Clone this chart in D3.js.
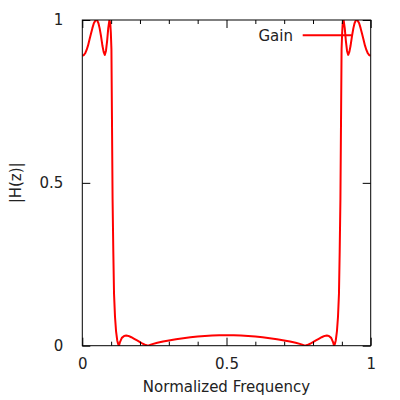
<!DOCTYPE html>
<html><head><meta charset="utf-8">
<script src="https://cdn.jsdelivr.net/npm/d3@7"></script>
<style>body{margin:0;background:#fff}svg{display:block}text{font-family:"DejaVu Sans",sans-serif;font-size:15px;fill:#222}</style>
</head><body>
<svg id="c" width="400" height="400"></svg>
<script>
const freq = [0,0.005,0.01,0.015,0.02,0.025,0.03,0.035,0.04,0.045,0.048,0.052,0.056,0.06,0.065,0.07,0.074,0.078,0.082,0.086,0.09,0.094,0.097,0.099,0.101,0.103,0.105,0.1075,0.11,0.1134,0.117,0.121,0.124,0.127,0.131,0.137,0.145,0.152,0.16,0.17,0.18,0.19,0.2,0.21,0.22,0.228,0.24,0.26,0.28,0.3,0.325,0.35,0.375,0.4,0.425,0.45,0.475,0.5,
0.525,0.55,0.575,0.6,0.625,0.65,0.675,0.7,0.72,0.74,0.76,0.772,0.78,0.79,0.8,0.81,0.82,0.83,0.84,0.848,0.855,0.863,0.869,0.873,0.876,0.879,0.883,0.8866,0.89,0.8925,0.895,0.897,0.899,0.901,0.903,0.906,0.91,0.914,0.918,0.922,0.926,0.93,0.935,0.94,0.944,0.948,0.952,0.955,0.96,0.965,0.97,0.975,0.98,0.985,0.99,0.995,1];
const gain = [0.890,0.892,0.898,0.908,0.922,0.940,0.958,0.975,0.990,0.998,1.0,0.998,0.990,0.975,0.950,0.920,0.902,0.893,0.905,0.935,0.975,1.0,0.99,0.96,0.91,0.68,0.45,0.29,0.16,0.089,0.045,0.017,0.006,0,0.012,0.024,0.030,0.031,0.030,0.026,0.021,0.016,0.011,0.006,0.002,0,0.004,0.009,0.013,0.016,0.020,0.023,0.026,0.028,0.030,0.031,0.032,0.032,
0.032,0.031,0.030,0.028,0.026,0.023,0.020,0.016,0.013,0.009,0.004,0,0.002,0.006,0.011,0.016,0.021,0.026,0.030,0.031,0.030,0.024,0.012,0,0.006,0.017,0.045,0.089,0.16,0.29,0.45,0.68,0.91,0.96,0.99,1.0,0.975,0.935,0.905,0.893,0.902,0.920,0.950,0.975,0.990,0.998,1.0,0.998,0.990,0.975,0.958,0.940,0.922,0.908,0.898,0.892,0.890];
const xTicks = [0,0.5,1];
const xMinor = [0.1,0.2,0.3,0.4,0.6,0.7,0.8,0.9];
const yTicks = [0,0.5,1];
const seriesName = "Gain";
const xTitle = "Normalized Frequency";
const yTitle = "|H(z)|";

const L=82.3,R=370.7,T=20,B=345.7;
const svg=d3.select("#c");
const x=d3.scaleLinear().domain([0,1]).range([L,R]);
const y=d3.scaleLinear().domain([0,1]).range([B,T]);

svg.append("defs").append("clipPath").attr("id","clip").append("rect").attr("x",L).attr("y",T).attr("width",R-L).attr("height",B-T);

const data=freq.map((f,i)=>[f,gain[i]]);
svg.append("path").datum(data).attr("clip-path","url(#clip)")
  .attr("fill","none").attr("stroke","#ff0000").attr("stroke-width",2).attr("stroke-linejoin","round")
  .attr("d",d3.line().x(d=>x(d[0])).y(d=>y(d[1])));

const g1=svg.append("g").attr("transform",`translate(0,${B})`).call(d3.axisBottom(x).tickValues(xTicks).tickSize(-8).tickFormat(d3.format("")).tickPadding(13));
const g1m=svg.append("g").attr("transform",`translate(0,${B})`).call(d3.axisBottom(x).tickValues(xMinor).tickSize(-4).tickFormat(""));
const g2=svg.append("g").attr("transform",`translate(0,${T})`).call(d3.axisTop(x).tickValues(xTicks).tickSize(-8).tickFormat(""));
const g2m=svg.append("g").attr("transform",`translate(0,${T})`).call(d3.axisTop(x).tickValues(xMinor).tickSize(-4).tickFormat(""));
const g3=svg.append("g").attr("transform",`translate(${L},0)`).call(d3.axisLeft(y).tickValues(yTicks).tickSize(-8).tickFormat(d3.format("")).tickPadding(19));
const g4=svg.append("g").attr("transform",`translate(${R},0)`).call(d3.axisRight(y).tickValues(yTicks).tickSize(-8).tickFormat(""));
[g1,g1m,g2,g2m,g3,g4].forEach(g=>{g.select(".domain").remove();g.selectAll("line").attr("stroke","#000");g.selectAll("text").attr("fill","#222").style("font-size","15px").style("font-family","DejaVu Sans, sans-serif");});
svg.append("rect").attr("x",L).attr("y",T).attr("width",R-L).attr("height",B-T).attr("fill","none").attr("stroke","#000").attr("stroke-width",1);

svg.append("text").attr("x",(L+R)/2).attr("y",392).attr("text-anchor","middle").text(xTitle);
svg.append("text").attr("transform",`translate(21,${(T+B)/2}) rotate(-90)`).attr("text-anchor","middle").text(yTitle);

svg.append("text").attr("x",293).attr("y",40.5).attr("text-anchor","end").text(seriesName);
svg.append("line").attr("x1",302.7).attr("x2",351.7).attr("y1",35.3).attr("y2",35.3).attr("stroke","#ff0000").attr("stroke-width",2);
</script>
</body></html>
